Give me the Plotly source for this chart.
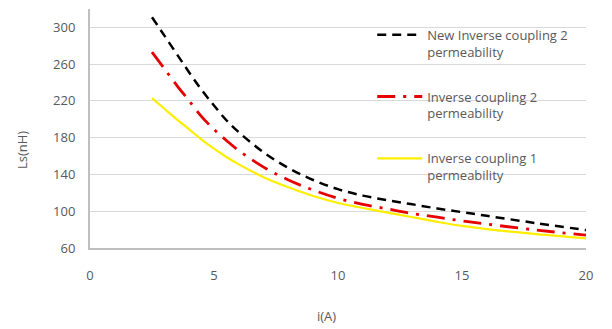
import plotly.graph_objects as go

current_a = [2.5, 3, 3.5, 4, 4.5, 5, 5.5, 6, 7, 8, 9, 10, 11, 12, 13, 14, 15, 16, 18, 20]
new_inverse_2 = [311, 291, 271, 251, 232, 215, 199, 186, 164, 147, 134, 124, 117, 112,
                 107.5, 103, 99, 95, 87, 79.5]
inverse_2 = [273, 255, 237, 220, 203, 189, 177, 166, 148, 134, 123, 114, 107.5, 102.5,
             97.5, 93.5, 89.5, 86, 79.5, 74]
inverse_1 = [223, 211.5, 200, 189, 178, 168, 159, 151, 137, 126, 116.5, 109, 103.5, 98.5,
             93.5, 88.5, 84, 80.5, 75, 70.5]

names = ["New Inverse coupling 2<br>permeability",
         "Inverse coupling 2<br>permeability",
         "Inverse coupling 1<br>permeability"]

font = dict(family="Open Sans", size=13, color="#595959")

fig = go.Figure()
fig.add_trace(go.Scatter(x=current_a, y=new_inverse_2, mode="lines", name=names[0],
                         line=dict(color="black", width=2.5, dash="9px,6px",
                                   shape="spline", smoothing=1),
                         legendgroup="a"))
fig.add_trace(go.Scatter(x=current_a, y=inverse_2, mode="lines", name=names[1],
                         line=dict(color="#e60000", width=2.8, dash="18px,8px,3px,8px",
                                   shape="spline", smoothing=1),
                         legendgroup="b"))
fig.add_trace(go.Scatter(x=current_a, y=inverse_1, mode="lines", name=names[2],
                         line=dict(color="#ffee00", width=2.2, shape="spline", smoothing=1),
                         legendgroup="c"))

fig.update_layout(
    width=612, height=329,
    margin=dict(l=90, r=26, t=9, b=81),
    paper_bgcolor="white", plot_bgcolor="white",
    font=font,
    showlegend=True,
    legend=dict(x=0.569, y=0.955, xanchor="left", yanchor="top",
                bgcolor="rgba(0,0,0,0)", font=font, valign="top",
                tracegroupgap=25, itemwidth=45, traceorder="grouped"),
    xaxis=dict(range=[0, 20], tickvals=[0, 5, 10, 15, 20], showgrid=False,
               showline=True, linecolor="#bfbfbf", linewidth=2, zeroline=False,
               ticks="", ticklabelstandoff=14, tickfont=font, fixedrange=True),
    yaxis=dict(range=[60, 320], tick0=60, dtick=40, showgrid=True,
               gridcolor="#d9d9d9", gridwidth=1, showline=True,
               linecolor="#bfbfbf", linewidth=2, zeroline=False, ticks="",
               ticklabelstandoff=10, tickfont=font, fixedrange=True),
    annotations=[
        dict(text="i(A)", xref="paper", yref="paper", x=(326 - 90) / 496,
             y=-(316 - 248) / 239, xanchor="center", yanchor="middle",
             showarrow=False, font=dict(family="Open Sans", size=13, color="#595959")),
        dict(text="Ls(nH)", xref="paper", yref="paper", x=-(90 - 22) / 496,
             y=(248 - 150) / 239, xanchor="center", yanchor="middle", textangle=-90,
             showarrow=False, font=dict(family="Open Sans", size=13, color="#595959")),
    ],
)

fig.write_html("out.html", config={"displayModeBar": False},
               post_script="document.body.style.margin='0px';document.body.style.overflow='hidden';")
